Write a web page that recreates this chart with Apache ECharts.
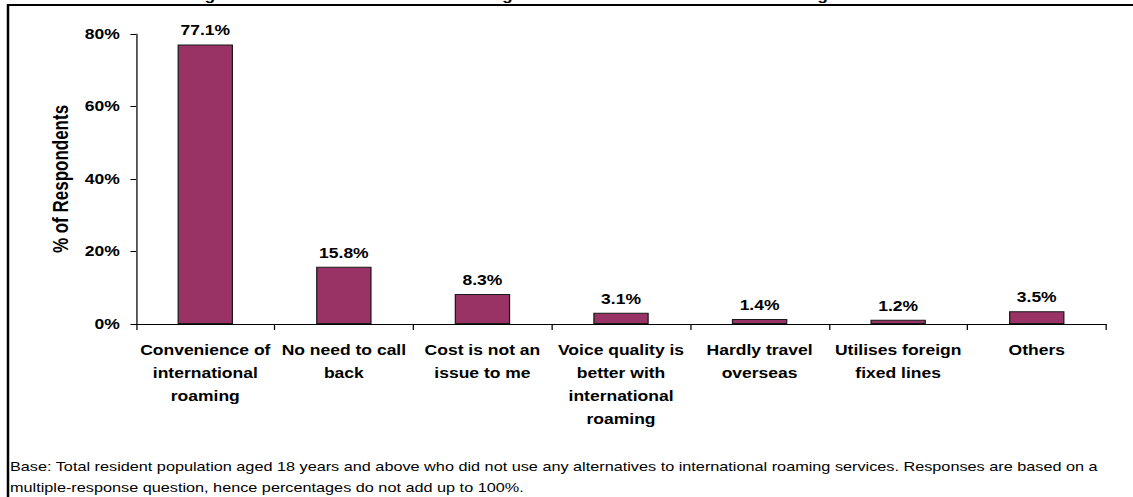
<!DOCTYPE html>
<html>
<head>
<meta charset="utf-8">
<script src="https://cdn.jsdelivr.net/npm/echarts@6/dist/echarts.min.js"></script>
<style>
  html, body { margin: 0; padding: 0; background: #fff; overflow: hidden; width: 1133px; height: 497px; }
  /* The figure is laid out on a narrower canvas and widened horizontally,
     giving the broad lettering of the original report figure. */
  #chart { width: 906px; height: 497px; transform: scaleX(1.2506); transform-origin: 0 0; }
</style>
</head>
<body>
<div id="chart"></div>
<script>
// Reasons given by respondents, with the share of respondents citing each
const categories = [
  'Convenience of\ninternational\nroaming',
  'No need to call\nback',
  'Cost is not an\nissue to me',
  'Voice quality is\nbetter with\ninternational\nroaming',
  'Hardly travel\noverseas',
  'Utilises foreign\nfixed lines',
  'Others'
];
const percentRespondents = [77.1, 15.8, 8.3, 3.1, 1.4, 1.2, 3.5];
const yTicks = { min: 0, max: 80, interval: 20 };

const titleText = 'Figure 4.17: Reasons for Not Choosing Alternatives to International Roaming Services';
const footnoteLines = [
  'Base: Total resident population aged 18 years and above who did not use any alternatives to international roaming services. Responses are based on a',
  'multiple-response question, hence percentages do not add up to 100%.'
];

const FONT = 'Arial, "Liberation Sans", Helvetica, sans-serif';
const chart = echarts.init(document.getElementById('chart'), null, { renderer: 'svg' });

chart.setOption({
  animation: false,
  backgroundColor: '#ffffff',
  textStyle: { fontFamily: FONT, color: '#000' },
  grid: { left: 108.75, right: 21.6, top: 34, bottom: 173, containLabel: false },
  xAxis: {
    type: 'category',
    data: categories,
    axisLine: { lineStyle: { color: '#000', width: 1 } },
    axisTick: { show: true, alignWithLabel: false, length: 6, lineStyle: { color: '#000' } },
    axisLabel: {
      interval: 0,
      margin: 15,
      fontFamily: FONT,
      fontSize: 14,
      fontWeight: 'bold',
      color: '#000',
      lineHeight: 23,
      align: 'center'
    }
  },
  yAxis: {
    type: 'value',
    min: yTicks.min,
    max: yTicks.max,
    interval: yTicks.interval,
    name: '% of Respondents',
    nameLocation: 'middle',
    nameRotate: 90,
    nameGap: 47,
    nameTextStyle: { fontFamily: FONT, fontSize: 17, fontWeight: 'bold', color: '#000' },
    axisLine: { show: true, lineStyle: { color: '#000', width: 1 } },
    axisTick: { show: true, length: 4.5, lineStyle: { color: '#000' } },
    splitLine: { show: false },
    axisLabel: {
      formatter: '{value}%',
      margin: 13,
      fontFamily: FONT,
      fontSize: 14,
      fontWeight: 'bold',
      color: '#000'
    }
  },
  series: [{
    type: 'bar',
    data: percentRespondents,
    barWidth: '40%',
    itemStyle: { color: '#993366', borderColor: '#1a1a1a', borderWidth: 1 },
    label: {
      show: true,
      position: 'top',
      distance: 7,
      formatter: p => p.value.toFixed(1) + '%',
      fontFamily: FONT,
      fontSize: 14,
      fontWeight: 'bold',
      color: '#000'
    }
  }],
  graphic: [
    {
      type: 'rect',
      shape: { x: 6.4, y: 5, width: 1000, height: 600 },
      style: { fill: 'none', stroke: '#000', lineWidth: 2 },
      silent: true
    },
    {
      type: 'text',
      left: 151,
      top: -12,
      style: {
        text: titleText,
        font: 'bold 14px ' + FONT,
        fill: '#000'
      },
      silent: true
    },
    {
      type: 'text',
      left: 8,
      top: 456,
      style: {
        text: footnoteLines.join('\n'),
        font: '13px ' + FONT,
        lineHeight: 21,
        fill: '#000'
      },
      silent: true
    }
  ]
});
</script>
</body>
</html>
